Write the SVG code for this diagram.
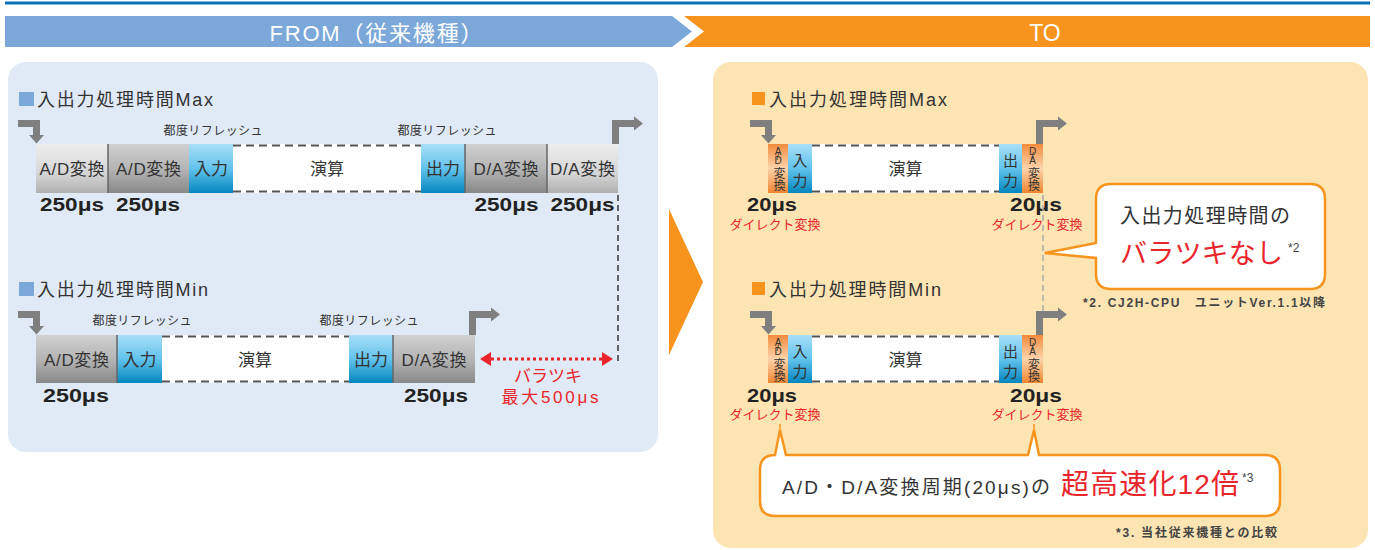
<svg xmlns="http://www.w3.org/2000/svg" width="1375" height="550" viewBox="0 0 1375 550">
<defs>
<linearGradient id="gL" x1="0" y1="0" x2="0" y2="1"><stop offset="0" stop-color="#eeeeee"/><stop offset="0.6" stop-color="#d5d5d5"/><stop offset="1" stop-color="#b0b0b0"/></linearGradient>
<linearGradient id="gD" x1="0" y1="0" x2="0" y2="1"><stop offset="0" stop-color="#d0d0d0"/><stop offset="0.5" stop-color="#b5b5b5"/><stop offset="1" stop-color="#888888"/></linearGradient>
<linearGradient id="gB" x1="0" y1="0" x2="0" y2="1"><stop offset="0" stop-color="#a8def7"/><stop offset="0.5" stop-color="#62c3ec"/><stop offset="1" stop-color="#0486bf"/></linearGradient>
<linearGradient id="gO" x1="0" y1="0" x2="0" y2="1"><stop offset="0" stop-color="#f28b3c"/><stop offset="0.5" stop-color="#fdd3ab"/><stop offset="1" stop-color="#ef8530"/></linearGradient>
<polygon id="arrIn" points="0,0 22,0 22,15 26,15 18.5,23.5 11,15 15,15 15,7 0,7" fill="#7f7f7f"/>
<polygon id="arrOut" points="0,24 0,0 22,0 22,-3.5 31,3.5 22,10.5 22,7 7,7 7,24" fill="#7f7f7f"/>
</defs>
<style>
text{font-family:'Liberation Sans','Noto Sans CJK JP',sans-serif;fill:#333}
.blk{font-size:17px;text-anchor:middle}
.ttl{font-size:18px}
.ref{font-size:12px;text-anchor:middle}
.us{font-size:18px;font-weight:bold;text-anchor:middle;fill:#222}
.red{fill:#e8252b}
.dl{font-size:13px;text-anchor:middle;fill:#e8252b}
.va{font-size:10px;writing-mode:vertical-rl;text-orientation:upright}
.vk{font-size:12px;writing-mode:vertical-rl;text-orientation:upright}
.vb{font-size:15px;text-anchor:middle}
.dash{stroke:#555;stroke-width:2;stroke-dasharray:8 5;fill:none}
.sep{stroke:#666;stroke-width:1.5}
</style>

<!-- header -->
<g id="header">
<line x1="5" y1="3" x2="1370" y2="3" stroke="#0b6fb5" stroke-width="3"/>
<polygon points="5,16 672,16 692,31.5 672,47 5,47" fill="#7ba7d9"/>
<polygon points="684,16 1370,16 1370,47 684,47 704,31.5" fill="#f7941d"/>
<text x="376" y="40.5" font-size="22" text-anchor="middle" textLength="213" style="fill:#fff">FROM（従来機種）</text>
<text x="1045" y="40.5" font-size="23" text-anchor="middle" style="fill:#fff">TO</text>
</g>

<!-- panels -->
<g id="panels">
<rect x="8" y="62" width="650" height="390" rx="18" fill="#dfeaf6"/>
<rect x="713" y="62" width="655" height="486" rx="18" fill="#fde4b3"/>
<polygon points="669,209 703,282 669,355" fill="#f7941d"/>
</g>

<!-- FROM Max -->
<g id="from-max">
<rect x="19" y="92" width="15" height="14" fill="#7ba7d9"/>
<text class="ttl" x="37" y="106" textLength="176">入出力処理時間Max</text>
<text class="ref" x="213" y="135" textLength="99">都度リフレッシュ</text>
<text class="ref" x="447" y="135" textLength="99">都度リフレッシュ</text>
<rect x="36" y="144" width="72" height="49" fill="url(#gL)"/>
<rect x="108" y="144" width="81" height="49" fill="url(#gD)"/>
<rect x="189" y="144" width="44" height="49" fill="url(#gB)"/>
<rect x="233" y="144" width="188" height="49" fill="#fff"/>
<line class="dash" x1="233" y1="145.5" x2="421" y2="145.5"/>
<line class="dash" x1="233" y1="191.5" x2="421" y2="191.5"/>
<rect x="421" y="144" width="44" height="49" fill="url(#gB)"/>
<rect x="465" y="144" width="82" height="49" fill="url(#gD)"/>
<rect x="547" y="144" width="71" height="49" fill="url(#gL)"/>
<line class="sep" x1="108" y1="144" x2="108" y2="193"/>
<line class="sep" x1="465" y1="144" x2="465" y2="193"/>
<line class="sep" x1="547" y1="144" x2="547" y2="193"/>
<text class="blk" x="72" y="175" textLength="65">A/D変換</text>
<text class="blk" x="148.5" y="175" textLength="65">A/D変換</text>
<text class="blk" x="211" y="175">入力</text>
<text class="blk" x="327" y="175">演算</text>
<text class="blk" x="443" y="175">出力</text>
<text class="blk" x="506" y="175" textLength="65">D/A変換</text>
<text class="blk" x="582.5" y="175" textLength="65">D/A変換</text>
<text class="us" x="72" y="211" textLength="64" lengthAdjust="spacingAndGlyphs">250μs</text>
<text class="us" x="148" y="211" textLength="64" lengthAdjust="spacingAndGlyphs">250μs</text>
<text class="us" x="506.5" y="211" textLength="64" lengthAdjust="spacingAndGlyphs">250μs</text>
<text class="us" x="582.5" y="211" textLength="64" lengthAdjust="spacingAndGlyphs">250μs</text>
</g>

<!-- FROM Min -->
<g id="from-min">
<rect x="19" y="282" width="15" height="14" fill="#7ba7d9"/>
<text class="ttl" x="37" y="296" textLength="171">入出力処理時間Min</text>
<text class="ref" x="142" y="325" textLength="99">都度リフレッシュ</text>
<text class="ref" x="369" y="325" textLength="99">都度リフレッシュ</text>
<rect x="36" y="335" width="81" height="48" fill="url(#gD)"/>
<rect x="117" y="335" width="45" height="48" fill="url(#gB)"/>
<rect x="162" y="335" width="187" height="48" fill="#fff"/>
<line class="dash" x1="162" y1="336.5" x2="349" y2="336.5"/>
<line class="dash" x1="162" y1="381.5" x2="349" y2="381.5"/>
<rect x="349" y="335" width="44" height="48" fill="url(#gB)"/>
<rect x="393" y="335" width="82" height="48" fill="url(#gD)"/>
<line class="sep" x1="117" y1="335" x2="117" y2="383"/>
<line class="sep" x1="393" y1="335" x2="393" y2="383"/>
<text class="blk" x="76.5" y="366" textLength="65">A/D変換</text>
<text class="blk" x="139.5" y="366">入力</text>
<text class="blk" x="255" y="366">演算</text>
<text class="blk" x="371" y="366">出力</text>
<text class="blk" x="434" y="366" textLength="65">D/A変換</text>
<text class="us" x="76" y="402" textLength="66" lengthAdjust="spacingAndGlyphs">250μs</text>
<text class="us" x="436" y="402" textLength="64" lengthAdjust="spacingAndGlyphs">250μs</text>
<text x="548" y="382" font-size="17" text-anchor="middle" class="red">バラツキ</text>
<text x="550" y="403" font-size="17" text-anchor="middle" class="red" textLength="97">最大500μs</text>
</g>

<!-- TO Max -->
<g id="to-max">
<rect x="752" y="92" width="13" height="13" fill="#f7941d"/>
<text class="ttl" x="769" y="106" textLength="178">入出力処理時間Max</text>
<rect x="768" y="144" width="20" height="49" fill="url(#gO)"/>
<rect x="788" y="144" width="24" height="49" fill="url(#gB)"/>
<rect x="812" y="144" width="187" height="49" fill="#fff"/>
<line class="dash" x1="812" y1="145.5" x2="999" y2="145.5"/>
<line class="dash" x1="812" y1="191.5" x2="999" y2="191.5"/>
<rect x="999" y="144" width="23" height="49" fill="url(#gB)"/>
<rect x="1022" y="144" width="21" height="49" fill="url(#gO)"/>
<text class="va" x="778" y="146" textLength="20">A/D</text>
<text class="vk" x="778" y="167">変換</text>
<text class="vb" x="800" y="166">入</text>
<text class="vb" x="800" y="186">力</text>
<text class="blk" x="905.5" y="175">演算</text>
<text class="vb" x="1010.5" y="166">出</text>
<text class="vb" x="1010.5" y="186">力</text>
<text class="va" x="1032.5" y="146" textLength="20">D/A</text>
<text class="vk" x="1032.5" y="167">変換</text>
<text class="us" x="772" y="211" textLength="50" lengthAdjust="spacingAndGlyphs">20μs</text>
<text class="us" x="1036" y="211" textLength="52" lengthAdjust="spacingAndGlyphs">20μs</text>
<text class="dl" x="775" y="229">ダイレクト変換</text>
<text class="dl" x="1037" y="229">ダイレクト変換</text>
</g>

<!-- TO Min -->
<g id="to-min">
<rect x="752" y="282" width="13" height="13" fill="#f7941d"/>
<text class="ttl" x="769" y="296" textLength="172">入出力処理時間Min</text>
<rect x="768" y="335" width="20" height="48" fill="url(#gO)"/>
<rect x="788" y="335" width="24" height="48" fill="url(#gB)"/>
<rect x="812" y="335" width="187" height="48" fill="#fff"/>
<line class="dash" x1="812" y1="336.5" x2="999" y2="336.5"/>
<line class="dash" x1="812" y1="381.5" x2="999" y2="381.5"/>
<rect x="999" y="335" width="23" height="48" fill="url(#gB)"/>
<rect x="1022" y="335" width="21" height="48" fill="url(#gO)"/>
<text class="va" x="778" y="337" textLength="20">A/D</text>
<text class="vk" x="778" y="358">変換</text>
<text class="vb" x="800" y="357">入</text>
<text class="vb" x="800" y="377">力</text>
<text class="blk" x="905.5" y="366">演算</text>
<text class="vb" x="1010.5" y="357">出</text>
<text class="vb" x="1010.5" y="377">力</text>
<text class="va" x="1032.5" y="337" textLength="20">D/A</text>
<text class="vk" x="1032.5" y="358">変換</text>
<text class="us" x="772" y="402" textLength="50" lengthAdjust="spacingAndGlyphs">20μs</text>
<text class="us" x="1036" y="402" textLength="52" lengthAdjust="spacingAndGlyphs">20μs</text>
<text class="dl" x="775" y="419">ダイレクト変換</text>
<text class="dl" x="1037" y="419">ダイレクト変換</text>
</g>

<!-- callouts -->
<g id="callout-nobara">
<path d="M1111,184 H1310 Q1325,184 1325,199 V274 Q1325,289 1310,289 H1111 Q1096,289 1096,274 V258 L1045,253 L1096,243 V199 Q1096,184 1111,184 Z" fill="#fff" stroke="#f7941d" stroke-width="2.5"/>
<text x="1205" y="223" font-size="20" text-anchor="middle" textLength="170">入出力処理時間の</text>
<text x="1120" y="263" font-size="27" class="red" textLength="163">バラツキなし</text>
<text x="1288" y="252" font-size="12" style="fill:#444">*2</text>
<text x="1083" y="307" font-size="12" font-weight="bold" style="fill:#444" textLength="242">*2. CJ2H-CPU　ユニットVer.1.1以降</text>
</g>
<g id="callout-speed">
<line x1="780" y1="424" x2="780" y2="432" stroke="#f7941d" stroke-width="1.5"/>
<line x1="1034" y1="424" x2="1034" y2="432" stroke="#f7941d" stroke-width="1.5"/>
<path d="M775,455 L780,430 L786,455 H1028 L1034,430 L1039,455 H1265 Q1280,455 1280,470 V501 Q1280,516 1265,516 H775 Q760,516 760,501 V470 Q760,455 775,455 Z" fill="#fff" stroke="#f7941d" stroke-width="2.5"/>
<text x="782" y="494" font-size="19" textLength="268">A/D・D/A変換周期(20μs)の</text>
<text x="1061" y="494" font-size="28" class="red" textLength="178">超高速化12倍</text>
<text x="1242" y="482" font-size="12" style="fill:#444">*3</text>
<text x="1116" y="537" font-size="12" font-weight="bold" style="fill:#444" textLength="161">*3. 当社従来機種との比較</text>
</g>

<!-- connectors -->
<g id="connectors">
<use href="#arrIn" x="18" y="120"/>
<use href="#arrIn" x="18" y="311"/>
<use href="#arrIn" x="750" y="120"/>
<use href="#arrIn" x="750" y="311"/>
<use href="#arrOut" x="612" y="120"/>
<use href="#arrOut" x="469" y="311"/>
<use href="#arrOut" x="1036" y="120"/>
<use href="#arrOut" x="1036" y="311"/>
<line x1="618" y1="195" x2="618" y2="363" stroke="#555" stroke-width="1.8" stroke-dasharray="6 4"/>
<line x1="1043" y1="195" x2="1043" y2="311" stroke="#aaa" stroke-width="1.5" stroke-dasharray="6 4"/>
<line x1="491" y1="359" x2="603" y2="359" stroke="#e8252b" stroke-width="3" stroke-dasharray="3 3"/>
<polygon points="480,359 491,352 491,366" fill="#e8252b"/>
<polygon points="613,359 602,352 602,366" fill="#e8252b"/>
</g>
</svg>
